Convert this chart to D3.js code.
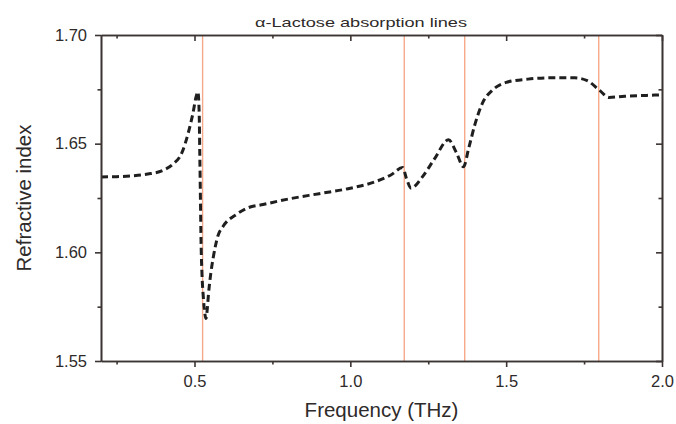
<!DOCTYPE html>
<html>
<head>
<meta charset="utf-8">
<script src="https://cdn.jsdelivr.net/npm/d3@7"></script>
<style>
  body { margin: 0; background: #fff; }
  text { font-family: "Liberation Sans", Arial, sans-serif; fill: #2e2a29; }
</style>
</head>
<body>
<div id="chart"></div>
<script>
// frequency (THz) and refractive index
const freq = [0.20, 0.25, 0.30, 0.35, 0.40, 0.43, 0.46, 0.48, 0.495, 0.505, 0.511,
  0.515, 0.517, 0.519, 0.521, 0.524, 0.528, 0.533, 0.537, 0.541, 0.545, 0.552,
  0.560, 0.575, 0.592, 0.635, 0.672, 0.72, 0.80, 0.90, 1.00, 1.08, 1.13, 1.168,
  1.18, 1.195, 1.23, 1.27, 1.315, 1.34, 1.363, 1.38, 1.40, 1.425, 1.455, 1.50,
  1.57, 1.65, 1.72, 1.76, 1.80, 1.83, 1.88, 1.95, 2.00];
const refIndex = [1.6347, 1.6348, 1.6352, 1.6360, 1.6378, 1.6405, 1.6460, 1.6550,
  1.6640, 1.6715, 1.6738, 1.6640, 1.6450, 1.6250, 1.6050, 1.5900, 1.5800, 1.5720,
  1.5695, 1.5740, 1.5810, 1.5900, 1.5975, 1.6075, 1.6120, 1.6175, 1.6205, 1.6220,
  1.6245, 1.6270, 1.6295, 1.6325, 1.6356, 1.6390, 1.6340, 1.6295, 1.6345, 1.6430,
  1.6518, 1.6460, 1.6394, 1.6480, 1.6590, 1.6690, 1.6745, 1.6782, 1.6797, 1.6803,
  1.6803, 1.6790, 1.6745, 1.6713, 1.6718, 1.6722, 1.6725];

// lactose absorption lines (THz)
const absorptionLines = [0.526, 1.173, 1.367, 1.797];

const xTicks = [0.5, 1.0, 1.5, 2.0];
const xMinorTicks = [0.25, 0.75, 1.25, 1.75];
const yTicks = [1.55, 1.60, 1.65, 1.70];
const yMinorTicks = [1.575, 1.625, 1.675];

const width = 676, height = 424;
const margin = { top: 35, right: 14, bottom: 63, left: 101 };
const innerW = width - margin.left - margin.right;
const innerH = height - margin.top - margin.bottom;
const axisColor = "#3b3432";

const svg = d3.select("#chart")
  .append("svg")
  .attr("width", width)
  .attr("height", height);

const g = svg.append("g")
  .attr("transform", `translate(${margin.left},${margin.top})`);

const x = d3.scaleLinear().domain([0.2, 2.0]).range([0, innerW]);
const y = d3.scaleLinear().domain([1.55, 1.70]).range([innerH, 0]);

// vertical absorption lines
g.selectAll(".absLine")
  .data(absorptionLines)
  .enter()
  .append("line")
  .attr("class", "absLine")
  .attr("x1", d => x(d))
  .attr("x2", d => x(d))
  .attr("y1", 0)
  .attr("y2", innerH)
  .attr("stroke", "#f6a98a")
  .attr("stroke-width", 1.4);

// refractive index curve
const points = freq.map((f, i) => [f, refIndex[i]]);
const line = d3.line()
  .x(d => x(d[0]))
  .y(d => y(d[1]))
  .curve(d3.curveMonotoneX);

g.append("path")
  .datum(points)
  .attr("d", line)
  .attr("fill", "none")
  .attr("stroke", "#1f1f1f")
  .attr("stroke-width", 3)
  .attr("stroke-dasharray", "7,4");

// style helper for axes
function styleAxis(sel) {
  sel.select(".domain").attr("stroke", axisColor).attr("stroke-width", 1.6);
  sel.selectAll(".tick line").attr("stroke", axisColor).attr("stroke-width", 1.6);
  sel.selectAll("text").style("font-size", "16.5px").attr("fill", "#2e2a29");
}

// bottom axis (ticks outward) + minor
g.append("g")
  .attr("transform", `translate(0,${innerH})`)
  .call(d3.axisBottom(x).tickValues(xTicks).tickSize(6).tickPadding(8).tickFormat(d3.format(".1f")).tickSizeOuter(0))
  .call(styleAxis);
g.append("g")
  .attr("transform", `translate(0,${innerH})`)
  .call(d3.axisBottom(x).tickValues(xMinorTicks).tickSize(3.5).tickFormat("").tickSizeOuter(0))
  .call(styleAxis);

// top axis (ticks inward)
g.append("g")
  .call(d3.axisBottom(x).tickValues(xTicks).tickSize(6).tickFormat("").tickSizeOuter(0))
  .call(styleAxis);
g.append("g")
  .call(d3.axisBottom(x).tickValues(xMinorTicks).tickSize(3.5).tickFormat("").tickSizeOuter(0))
  .call(styleAxis);

// left axis (ticks outward) + minor
g.append("g")
  .call(d3.axisLeft(y).tickValues(yTicks).tickSize(6).tickPadding(8).tickFormat(d3.format(".2f")).tickSizeOuter(0))
  .call(styleAxis);
g.append("g")
  .call(d3.axisLeft(y).tickValues(yMinorTicks).tickSize(3.5).tickFormat("").tickSizeOuter(0))
  .call(styleAxis);

// right axis (ticks inward)
g.append("g")
  .attr("transform", `translate(${innerW},0)`)
  .call(d3.axisLeft(y).tickValues(yTicks).tickSize(6).tickFormat("").tickSizeOuter(0))
  .call(styleAxis);
g.append("g")
  .attr("transform", `translate(${innerW},0)`)
  .call(d3.axisLeft(y).tickValues(yMinorTicks).tickSize(3.5).tickFormat("").tickSizeOuter(0))
  .call(styleAxis);

// title
svg.append("text")
  .attr("x", 255)
  .attr("y", 27)
  .attr("textLength", 212)
  .attr("lengthAdjust", "spacingAndGlyphs")
  .style("font-size", "13px")
  .text("α-Lactose absorption lines");

// axis labels
svg.append("text")
  .attr("x", margin.left + innerW / 2)
  .attr("y", 417)
  .attr("text-anchor", "middle")
  .style("font-size", "20.5px")
  .text("Frequency (THz)");

svg.append("text")
  .attr("transform", `translate(31,${margin.top + innerH / 2}) rotate(-90)`)
  .attr("text-anchor", "middle")
  .style("font-size", "20.5px")
  .text("Refractive index");
</script>
</body>
</html>
